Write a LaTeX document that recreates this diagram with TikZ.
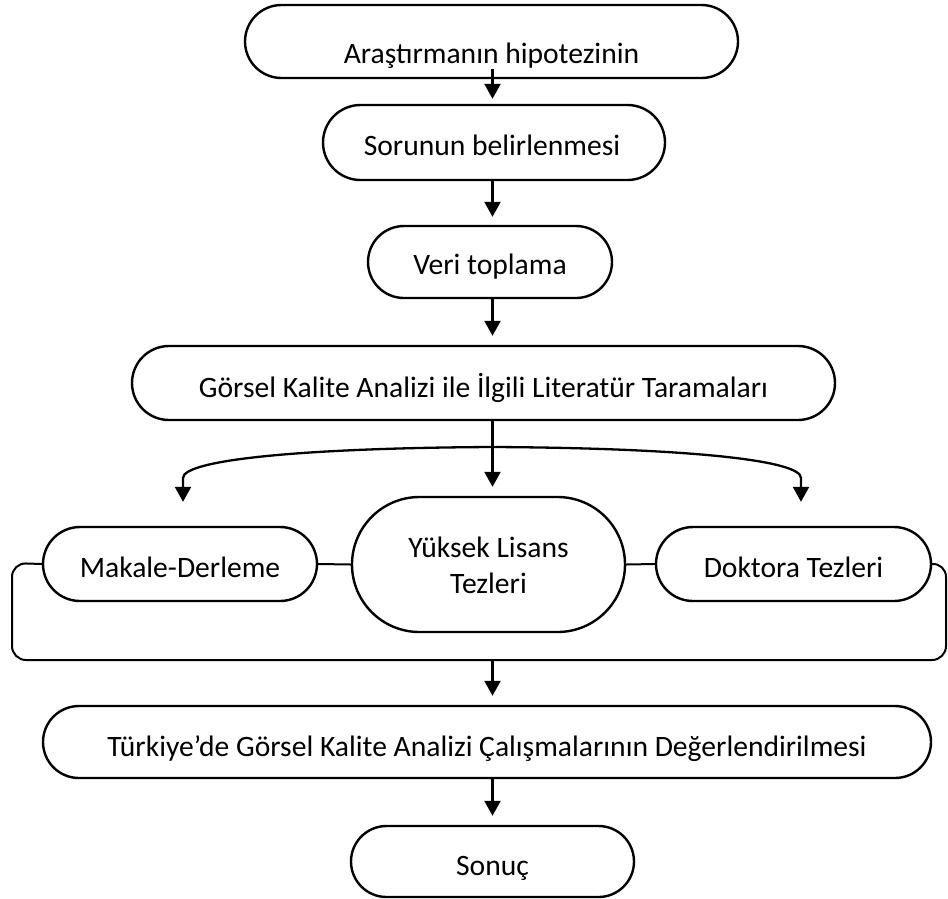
\documentclass[tikz,border=0pt]{standalone}
\usepackage{fontspec}
\setmainfont{Carlito}
\usetikzlibrary{shapes.misc,arrows.meta,calc}
\begin{document}
\begin{tikzpicture}[x=1pt,y=1pt,
  term/.style={rounded rectangle, draw=black, line width=2.4pt, inner sep=0pt, fill=white},
  lbl/.style={anchor=base, inner sep=0pt, font=\fontsize{29.6}{35}\selectfont},
  arr/.style={line width=2.3pt, -{Triangle[width=16pt,length=15pt]}},
  link/.style={line width=2pt}]
\useasboundingbox (0,0) rectangle (948,-898);
\coordinate (axis) at (492.5,0);
% boxes
\node[term, minimum width=493, minimum height=73] (hyp) at (491.5,-41.5) {};
\node[term, minimum width=342, minimum height=75] (sorun) at (494,-142.5) {};
\node[term, minimum width=244, minimum height=72] (veri) at (490,-262) {};
\node[term, minimum width=703, minimum height=74] (lit) at (483.5,-383) {};
\node[term, minimum width=274, minimum height=74] (mak) at (180,-564) {};
\node[term, minimum width=273, minimum height=135] (yl) at (488.5,-564.5) {};
\node[term, minimum width=275, minimum height=74] (dok) at (793.5,-564) {};
\node[term, minimum width=888, minimum height=72] (tur) at (487,-742) {};
\node[term, minimum width=283, minimum height=71] (sonuc) at (492.5,-861.5) {};
% texts
\node[lbl] (hypt) at ($(hyp.center)+(0,-21.5)$) {Araştırmanın hipotezinin};
\node[lbl] (sorunt) at ($(sorun.center)+(-2,-12.5)$) {Sorunun belirlenmesi};
\node[lbl] (verit) at ($(veri.center)+(0,-12)$) {Veri toplama};
\node[lbl] (litt) at ($(lit.center)+(0,-14)$) {Görsel Kalite Analizi ile İlgili Literatür Taramaları};
\node[lbl] (makt) at ($(mak.center)+(0,-13)$) {Makale-Derleme};
\node[lbl] (ylt1) at (488.5,-557) {Yüksek Lisans};
\node[lbl] (ylt2) at (488.5,-593) {Tezleri};
\node[lbl] (dokt) at ($(dok.center)+(0,-13)$) {Doktora Tezleri};
\node[lbl] (turt) at ($(tur.center)+(0,-14)$) {Türkiye’de Görsel Kalite Analizi Çalışmalarının Değerlendirilmesi};
\node[lbl] (sonuct) at ($(sonuc.center)+(0,-13.5)$) {Sonuç};
% links between middle boxes and bracket
\draw[link] (mak.east) -- (yl.west);
\draw[link] (yl.east) -- (dok.west);
\coordinate (brb) at (492.5,-660);
\draw[link, rounded corners=14pt] (mak.west) -- (12,-563) -- (12,-660) -- (946,-660) -- (946,-563) -- (dok.east);
% arrows
\draw[arr] ($(hyp.south -| axis)+(0,10)$) -- ($(sorun.north -| axis)+(0,5)$);
\draw[arr] (sorun.south -| axis) -- ($(veri.north -| axis)+(0,8)$);
\draw[arr] (veri.south -| axis) -- ($(lit.north -| axis)+(0,9)$);
\draw[arr] (lit.south -| axis) -- ($(yl.north -| axis)+(0,9)$);
\coordinate (fork) at (492.5,-447);
\draw[arr] (fork) .. controls (300,-448) and (183,-460) .. (183,-478) -- ($(mak.north)+(3,24)$);
\draw[arr] (fork) .. controls (685,-448) and (801,-460) .. (801,-478) -- ($(dok.north)+(7.5,24)$);
\draw[arr] (brb) -- ($(tur.north -| axis)+(0,9)$);
\draw[arr] (tur.south -| axis) -- ($(sonuc.north -| axis)+(0,9)$);
\end{tikzpicture}
\end{document}
